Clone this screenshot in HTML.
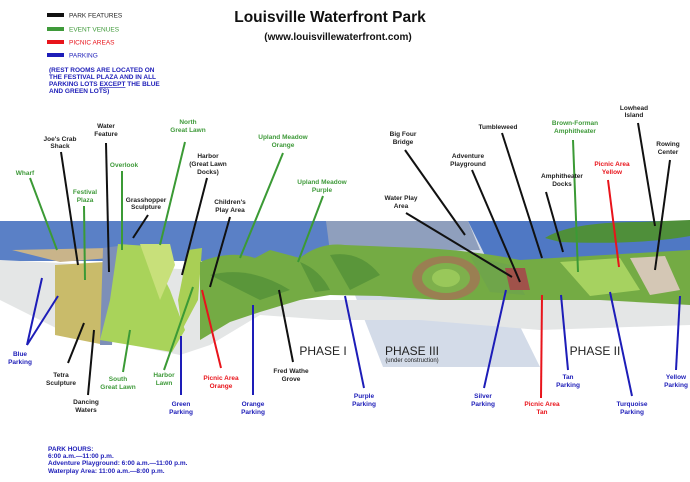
<!DOCTYPE html>
<html><head><meta charset="utf-8"><style>
html,body{margin:0;padding:0;background:#fff;}
svg{display:block;}
text{font-family:"Liberation Sans",sans-serif;font-size:6.5px;font-weight:bold;text-anchor:middle;}
.k{fill:#222}.g{fill:#3f9a3a}.r{fill:#e8141b}.b{fill:#1d1db8}
.lk{stroke:#111;stroke-width:2}.lg{stroke:#3b9a35;stroke-width:2}.lr{stroke:#e8141b;stroke-width:2}.lb{stroke:#1d1db8;stroke-width:2}
</style></head><body>
<svg width="690" height="482" viewBox="0 0 690 482" xmlns="http://www.w3.org/2000/svg">
<rect x="0" y="221" width="690" height="40" fill="#4f78c4"/>
<rect x="0" y="221" width="330" height="40" fill="#5a80c6"/>
<path d="M545,238 Q570,222 640,222 L690,220 L690,236 Q640,245 560,242 Z" fill="#4f8f3a"/>
<polygon points="326,221 468,221 540,367 383,367" fill="#d3dbe8"/>
<polygon points="326,221 468,221 480,250 330,252" fill="#8f9fbd"/>
<path d="M0,260 L200,270 L260,300 L320,300 L400,300 L690,300 L690,325 L540,330 L420,320 L330,320 L260,315 L210,345 L180,355 L60,330 L0,300 Z" fill="#e4e6e6"/>
<path d="M12,250 L110,248 L110,258 L60,262 Z" fill="#c9b48a"/>
<polygon points="55,265 105,262 105,345 55,335" fill="#c9bb6a"/>
<polygon points="103,248 118,246 112,345 100,345" fill="#7d8fb8"/>
<polygon points="118,244 148,246 170,290 185,330 172,352 100,340 110,300" fill="#a9d35a"/>
<polygon points="140,244 170,244 175,265 160,300" fill="#c8e07a"/>
<polygon points="188,250 202,248 198,300 182,330 178,300" fill="#a9cf55"/>
<path d="M200,262 Q230,250 255,258 L270,250 L300,258 Q320,242 345,245 L420,248 Q470,250 520,260 L690,250 L690,305 L600,300 L520,300 L440,300 L380,296 L330,295 L300,300 L260,312 L230,322 L200,340 Z" fill="#74ab44"/>
<path d="M210,275 Q250,265 290,290 L260,300 Z" fill="#5a963a"/>
<path d="M330,255 Q360,250 380,275 L350,290 Z" fill="#5a963a"/>
<path d="M300,262 Q320,270 330,290 L315,292 Z" fill="#5a963a"/>
<path d="M560,262 L620,258 L640,290 L590,296 Z" fill="#a6d260"/>
<path d="M630,258 L665,256 L680,290 L650,295 Z" fill="#d4c7b5"/>
<ellipse cx="446" cy="278" rx="34" ry="22" fill="#9a7f52"/>
<ellipse cx="446" cy="278" rx="24" ry="15" fill="#7eb04c"/>
<ellipse cx="446" cy="278" rx="14" ry="9" fill="#99c85a"/>
<path d="M470,256 L510,265 L525,295 L490,292 Z" fill="#6fa54a"/>
<path d="M505,268 L525,268 L530,290 L510,290 Z" fill="#a0524a"/>
<text x="323" y="355" style="font-size:12px;font-weight:normal" class="k">PHASE I</text>
<text x="412" y="355" style="font-size:12px;font-weight:normal" class="k">PHASE III</text>
<text x="412" y="362" style="font-size:6px;font-weight:normal" class="k">(under construction)</text>
<text x="595" y="355" style="font-size:12px;font-weight:normal" class="k">PHASE II</text>
<rect x="47" y="13" width="17" height="4" fill="#111"/><text x="69" y="17.5" class="k" style="text-anchor:start;font-weight:normal">PARK FEATURES</text>
<rect x="47" y="27" width="17" height="4" fill="#3f9a3a"/><text x="69" y="31.5" class="g" style="text-anchor:start;font-weight:normal">EVENT VENUES</text>
<rect x="47" y="40" width="17" height="4" fill="#e8141b"/><text x="69" y="44.5" class="r" style="text-anchor:start;font-weight:normal">PICNIC AREAS</text>
<rect x="47" y="53" width="17" height="4" fill="#1d1db8"/><text x="69" y="57.5" class="b" style="text-anchor:start;font-weight:normal">PARKING</text>
<g class="b" style="font-weight:normal">
<text x="49" y="72" style="text-anchor:start">(REST ROOMS ARE LOCATED ON</text>
<text x="49" y="79" style="text-anchor:start">THE FESTIVAL PLAZA AND IN ALL</text>
<text x="49" y="86" style="text-anchor:start">PARKING LOTS <tspan text-decoration="underline">EXCEPT</tspan> THE BLUE</text>
<text x="49" y="93" style="text-anchor:start">AND GREEN LOTS)</text>
</g>
<text x="330" y="22" style="font-size:15.5px;fill:#111">Louisville Waterfront Park</text>
<text x="338" y="40" style="font-size:10px;fill:#111">(www.louisvillewaterfront.com)</text>
<line class="lk" x1="61" y1="152" x2="78" y2="265"/>
<line class="lk" x1="106" y1="143" x2="109" y2="272"/>
<line class="lg" x1="185" y1="142" x2="160" y2="245"/>
<line class="lg" x1="122" y1="171" x2="122" y2="250"/>
<line class="lg" x1="30" y1="178" x2="57" y2="250"/>
<line class="lg" x1="84" y1="206" x2="85" y2="280"/>
<line class="lk" x1="148" y1="215" x2="133" y2="238"/>
<line class="lk" x1="207" y1="178" x2="182" y2="275"/>
<line class="lk" x1="230" y1="217" x2="210" y2="287"/>
<line class="lg" x1="283" y1="153" x2="240" y2="258"/>
<line class="lg" x1="323" y1="196" x2="298" y2="262"/>
<line class="lk" x1="405" y1="150" x2="465" y2="235"/>
<line class="lk" x1="472" y1="170" x2="520" y2="282"/>
<line class="lk" x1="502" y1="133" x2="542" y2="258"/>
<line class="lk" x1="406" y1="213" x2="512" y2="277"/>
<line class="lk" x1="546" y1="192" x2="563" y2="252"/>
<line class="lg" x1="573" y1="140" x2="578" y2="272"/>
<line class="lr" x1="608" y1="180" x2="619" y2="267"/>
<line class="lk" x1="638" y1="123" x2="655" y2="226"/>
<line class="lk" x1="670" y1="160" x2="655" y2="270"/>
<line class="lb" x1="27" y1="345" x2="42" y2="278"/>
<line class="lb" x1="27" y1="345" x2="58" y2="296"/>
<line class="lk" x1="68" y1="363" x2="84" y2="323"/>
<line class="lk" x1="88" y1="395" x2="94" y2="330"/>
<line class="lg" x1="123" y1="372" x2="130" y2="330"/>
<line class="lg" x1="164" y1="370" x2="193" y2="287"/>
<line class="lb" x1="181" y1="395" x2="181" y2="336"/>
<line class="lr" x1="221" y1="368" x2="202" y2="290"/>
<line class="lb" x1="253" y1="395" x2="253" y2="305"/>
<line class="lk" x1="293" y1="362" x2="279" y2="290"/>
<line class="lb" x1="364" y1="388" x2="345" y2="296"/>
<line class="lb" x1="484" y1="388" x2="506" y2="290"/>
<line class="lr" x1="541" y1="398" x2="542" y2="295"/>
<line class="lb" x1="568" y1="370" x2="561" y2="295"/>
<line class="lb" x1="632" y1="396" x2="610" y2="292"/>
<line class="lb" x1="676" y1="370" x2="680" y2="296"/>
<text class="k" x="60" y="141">Joe's Crab</text><text class="k" x="60" y="148">Shack</text>
<text class="k" x="106" y="128">Water</text><text class="k" x="106" y="136">Feature</text>
<text class="g" x="188" y="124">North</text><text class="g" x="188" y="132">Great Lawn</text>
<text class="g" x="124" y="167">Overlook</text>
<text class="g" x="25" y="175">Wharf</text>
<text class="g" x="85" y="194">Festival</text><text class="g" x="85" y="202">Plaza</text>
<text class="k" x="146" y="202">Grasshopper</text><text class="k" x="146" y="209">Sculpture</text>
<text class="k" x="208" y="158">Harbor</text><text class="k" x="208" y="166">(Great Lawn</text><text class="k" x="208" y="174">Docks)</text>
<text class="k" x="230" y="204">Children's</text><text class="k" x="230" y="212">Play Area</text>
<text class="g" x="283" y="139">Upland Meadow</text><text class="g" x="283" y="147">Orange</text>
<text class="g" x="322" y="184">Upland Meadow</text><text class="g" x="322" y="192">Purple</text>
<text class="k" x="403" y="136">Big Four</text><text class="k" x="403" y="144">Bridge</text>
<text class="k" x="468" y="158">Adventure</text><text class="k" x="468" y="166">Playground</text>
<text class="k" x="498" y="129">Tumbleweed</text>
<text class="k" x="401" y="200">Water Play</text><text class="k" x="401" y="208">Area</text>
<text class="k" x="562" y="178">Amphitheater</text><text class="k" x="562" y="186">Docks</text>
<text class="g" x="575" y="125">Brown-Forman</text><text class="g" x="575" y="133">Amphitheater</text>
<text class="r" x="612" y="166">Picnic Area</text><text class="r" x="612" y="174">Yellow</text>
<text class="k" x="634" y="110">Lowhead</text><text class="k" x="634" y="117">Island</text>
<text class="k" x="668" y="146">Rowing</text><text class="k" x="668" y="154">Center</text>
<text class="b" x="20" y="356">Blue</text><text class="b" x="20" y="364">Parking</text>
<text class="k" x="61" y="377">Tetra</text><text class="k" x="61" y="385">Sculpture</text>
<text class="k" x="86" y="404">Dancing</text><text class="k" x="86" y="412">Waters</text>
<text class="g" x="118" y="381">South</text><text class="g" x="118" y="389">Great Lawn</text>
<text class="g" x="164" y="377">Harbor</text><text class="g" x="164" y="385">Lawn</text>
<text class="b" x="181" y="406">Green</text><text class="b" x="181" y="414">Parking</text>
<text class="r" x="221" y="380">Picnic Area</text><text class="r" x="221" y="388">Orange</text>
<text class="b" x="253" y="406">Orange</text><text class="b" x="253" y="414">Parking</text>
<text class="k" x="291" y="373">Fred Wathe</text><text class="k" x="291" y="381">Grove</text>
<text class="b" x="364" y="398">Purple</text><text class="b" x="364" y="406">Parking</text>
<text class="b" x="483" y="398">Silver</text><text class="b" x="483" y="406">Parking</text>
<text class="r" x="542" y="406">Picnic Area</text><text class="r" x="542" y="414">Tan</text>
<text class="b" x="568" y="379">Tan</text><text class="b" x="568" y="387">Parking</text>
<text class="b" x="632" y="406">Turquoise</text><text class="b" x="632" y="414">Parking</text>
<text class="b" x="676" y="379">Yellow</text><text class="b" x="676" y="387">Parking</text>
<g class="b" style="font-weight:normal">
<text x="48" y="451" style="text-anchor:start">PARK HOURS:</text>
<text x="48" y="458" style="text-anchor:start">6:00 a.m.—11:00 p.m.</text>
<text x="48" y="465" style="text-anchor:start">Adventure Playground: 6:00 a.m.—11:00 p.m.</text>
<text x="48" y="473" style="text-anchor:start">Waterplay Area: 11:00 a.m.—8:00 p.m.</text>
</g>
</svg>
</body></html>
